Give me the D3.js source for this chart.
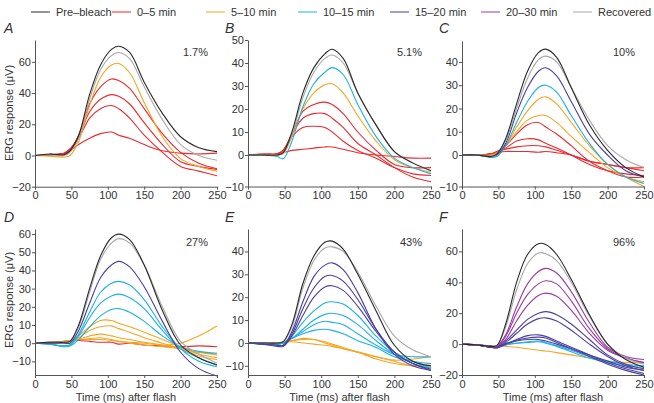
<!DOCTYPE html>
<html><head><meta charset="utf-8">
<script src="https://cdn.jsdelivr.net/npm/d3@7"></script>
<style>
body{margin:0;background:#fff}
svg{display:block}
text{font-family:"Liberation Sans",Arial,Helvetica,sans-serif;fill:#333}
</style>
</head><body>
<svg id="chart" width="654" height="403"></svg>
<script>
// ---------- data ----------
const time = [0,20,40,48,60,75,90,105,115,130,150,175,200,225,250];
const seriesNames = ["Pre\u2013bleach","0\u20135 min","5\u201310 min","10\u201315 min","15\u201320 min","20\u201330 min","Recovered"];
const xTicks = [0,50,100,150,200,250];
const panelLetters = ["A","B","C","D","E","F"];
const bleachLabels = ["1.7%","5.1%","10%","27%","43%","96%"];
const yTicksA = [-20,0,20,40,60];
const yTicksB = [-10,0,10,20,30,40,50];
const yTicksC = [-10,0,10,20,30,40];
const yTicksD = [-10,0,10,20,30,40,50,60];
const yTicksE = [-10,0,10,20,30,40];
const yTicksF = [-20,0,20,40,60];

// Panel A (1.7%)
const A_pre = [0,1,0.5,3,13,39,58,68,70,66,47,27,12,5,2.5];
const A_rec = [0,0.5,0,2,11,36,55,64,66,62,44,23,7,0,-3];
const A_510 = [[0,-0.5,-1,0,9,32,50,58,59,53,34,12,-2,-7,-10]];
const A_05 = [
  [0,0.5,1.5,4,13,33,44,49,48,43,30,14,2,-5,-8.5],
  [0,0.5,1.5,4,12,28,36,39,38,33,21,7,-4,-7,-9],
  [0,0.5,1.5,4,11,24,30,32,30,24,13,2,-7,-10,-13],
  [0,0.5,1,3,7,11,14,15,13,11,7,3,1.5,1,1.5]
];
// Panel B (5.1%)
const B_pre = [0,0,0,1,10,27,38,44,46,42,27,13,1.5,-2.5,-5];
const B_rec = [0,0,0,1,9,25,36,42,43.5,40,27,13,1.5,-2.5,-5];
const B_1015 = [[0,0,-0.5,-1.2,6,21,31,36,38,35,22,8,-1,-4,-6]];
const B_510 = [[0,0,0,0.5,8,20,27,30.5,31,27,17,6,-1.5,-4,-5.5]];
const B_05 = [
  [0,0,0.5,2,9,19,22,23,22,18,10,2,-3,-4,-4],
  [0,0,0.5,2,9,16,18,18,16,12,5,0,-4,-7,-8.5],
  [0,0,0.5,2,8,12,12.5,12,10,6,2,-1,-4,-6,-6.5],
  [0,0.5,0.5,1,2,2.5,3,3.5,3.5,2.5,1,0,-0.5,-1,-1]
];
// Panel C (10%)
const C_pre = [0,0,-0.5,0.5,7,22,36,44,45.5,42,29,13,2,-4,-7];
const C_rec = [0,0,-0.5,0.5,6,20,33,41,42.5,40,29,15,4,-1.5,-4];
const C_1520 = [[0,0,-0.5,0,5,18,29,36,37.5,34,23,9,0,-5,-7]];
const C_1015 = [[0,0,-0.8,-0.5,4,14,23,29,30,27,17,5,-3,-7,-9]];
const C_510 = [
  [0,0,-0.3,0.5,4,12,19,24,25,22,14,4,-3,-7,-10],
  [0,0,0,1,4,10,15,17,17,14,8,1,-4,-7,-8.5]
];
const C_05 = [
  [0,0,0,1,4,9,13,14,12,9,4,-2,-5,-7,-7],
  [0,0,0.5,1.5,3,6,7,6.5,5,3,0,-3,-5,-6,-6.5],
  [0,0,0.5,1.5,2.5,3.5,4,4,3.5,2,0,-2,-3,-4,-5],
  [0,0,0.5,1,1.5,1.5,1.5,1.2,1.5,1,0,-2,-3,-4,-4]
];
// Panel D (27%)
const D_pre = [0,0.5,0.5,1,10,30,48,58,60,57,43,18,-1,-8,-12];
const D_rec = [0,0.5,0.5,1,9,28,46,55,57.5,55,43,20,1,-6,-11];
const D_1520 = [[0,0,0,0,7,22,36,43,45,42,31,12,-5,-14,-18]];
const D_1015 = [
  [0,-0.5,-1.5,-1,5,17,28,33,34,32,24,9,-3,-10,-13],
  [0,-0.5,-1.5,-1,4,14,22,26,27,25,19,7,-3,-8,-12],
  [0,-0.5,-2,-1.5,2,9,15,18.5,19,17,12,4,-2,-4.5,-5.5]
];
const D_510 = [
  [0,0,0.5,1,4,9,12.5,12.5,11,9,6,2,-2,-6,-8],
  [0,0,0.5,1,3,7,9,9.5,8,6,3,0,-3,-7,-9],
  [0,0,0.5,1,2,4,5,4,3,2,0.5,-1,-3,-5,-6.5],
  [0,0.5,1,1.5,2,2.5,3,2,1,0.5,0,-1,0,4,9.5],
  [0,0.5,1,1.5,2,2,2,1.5,1,0,-1,-2,-3,-5,-6]
];
const D_05 = [[0,0.5,1,1.5,1.5,1,0.5,0.5,-0.5,0,-1,-1.5,-2,-1.5,-2]];
// Panel E (43%)
const E_pre = [0,0,0,0.5,8,26,38,44,44.5,41,30,14,-1,-8,-10];
const E_rec = [0,0,0,0.5,7,24,36,41.5,42,40,31,16,3,-3,-6];
const E_1520 = [
  [0,-0.5,-1,-1,5,18,29,34,35,32,22,6,-5,-10,-12],
  [0,-0.5,-1,-1,4,15,24,29,29.5,27,19,6,-4,-9,-11.5],
  [0,-0.5,-1.5,-1.5,3,12,20,24.5,25,23,16,5,-4,-9,-12]
];
const E_1015 = [
  [0,0,-0.5,0,3,9,14,17.5,18,17,12,3,-4,-8,-11],
  [0,0,-0.5,0,2,6,10,12.5,13,12,8,1,-5,-9,-11],
  [0,0,-0.5,0,2,5,8,9.5,9,8,4,-1,-5,-6,-6],
  [0,0,-0.5,0,2,4,5.5,6,5.5,4,1,-2,-6,-8,-9]
];
const E_510 = [
  [0,0,0,0.5,1,2,1.5,0.5,-0.5,-2,-4,-6,-8,-10,-9],
  [0,0,0,0.5,1,1.5,1.5,0,-1,-2.5,-4,-7,-9,-10,-10],
  [0,0,0,0.3,0.5,0,-0.5,-1,-1.5,-2.5,-4,-6,-7.5,-7,-6]
];
// Panel F (96%)
const F_pre = [0,-0.5,-1.5,-1,13,40,58,65,64.5,58,42,19,0,-10,-15];
const F_rec = [0,-0.5,-1.5,-1,11,35,52,59,58.5,54,40,18,0,-9,-13];
const F_2030 = [
  [0,-0.5,-1.5,-1.5,6,24,39,47,49,46,34,14,-2,-8,-10],
  [0,-0.5,-1.5,-1.5,5,20,32,39,41,39,28,10,-3,-9,-12],
  [0,-0.5,-1.5,-1.5,3,15,25,31.5,33,31,22,7,-4,-9,-12]
];
const F_1520 = [
  [0,-0.5,-2,-2,2,9,16,20,21,19,13,3,-7,-13,-16],
  [0,-0.5,-2,-2,1,7,13,16.5,17,15,9,0,-8,-14,-17],
  [0,-0.5,-2,-2.5,0,3,5.5,6,5,2,-2,-7,-12,-16,-19],
  [0,-0.5,-2,-2.5,0,2.5,4,4.5,4,1,-3,-8,-13,-17,-20],
  [0,-0.5,-2,-2,0,2,3,3,2,0,-3,-7,-11,-15,-17]
];
const F_1015 = [
  [0,-0.5,-1.5,-2,-0.5,0.5,1.5,2,1,-1,-4,-8,-11,-13,-14],
  [0,-0.5,-1.5,-2,-0.5,0.5,1,1.5,0.5,-1.5,-5,-9,-12,-14,-15]
];
const F_510 = [[0,-0.5,-1,-1,-1.5,-2,-3,-4,-4.5,-5.5,-7,-9,-11,-12,-12]];

// ---------- build ----------
const colors = ["#2a2a2a","#ea2a2f","#f5a623","#1cb0e6","#4a3f9f","#983b9e","#a8a8a8"];
function group(s, arr){ return arr.map(v => ({s, v})); }
const panelCurves = [
  [...group(1,A_05),...group(2,A_510),{s:6,v:A_rec},{s:0,v:A_pre}],
  [...group(1,B_05),...group(2,B_510),...group(3,B_1015),{s:6,v:B_rec},{s:0,v:B_pre}],
  [...group(1,C_05),...group(2,C_510),...group(3,C_1015),...group(4,C_1520),{s:6,v:C_rec},{s:0,v:C_pre}],
  [...group(1,D_05),...group(2,D_510),...group(3,D_1015),...group(4,D_1520),{s:6,v:D_rec},{s:0,v:D_pre}],
  [...group(2,E_510),...group(3,E_1015),...group(4,E_1520),{s:6,v:E_rec},{s:0,v:E_pre}],
  [...group(2,F_510),...group(3,F_1015),...group(4,F_1520),...group(5,F_2030),{s:6,v:F_rec},{s:0,v:F_pre}]
];
const yTickSets = [yTicksA,yTicksB,yTicksC,yTicksD,yTicksE,yTicksF];

// layout (pixels)
const xRanges = [[35,217],[248,431],[462,644],[35,217],[248,431],[462,644]];
const yScales = [
  d3.scaleLinear().domain([-20,74]).range([186.7,40]),
  d3.scaleLinear().domain([-10,0,50]).range([186.5,155,40]),
  d3.scaleLinear().domain([-10,0,49]).range([186.5,155,41]),
  d3.scaleLinear().domain([-17.5,62.8]).range([375,229]),
  d3.scaleLinear().domain([-14,49.8]).range([375,229]),
  d3.scaleLinear().domain([-20,74.5]).range([375,229])
];
const letterPos = [[4,33],[225,33],[439,33],[4,222],[225,222],[439,222]];
const pctRight = [208,422,635,208,422,635];
const pctY = [56,56,56,246,246,246];

const svg = d3.select("#chart");

// legend
const legX = [31,112,206,298,390,481,573];
seriesNames.forEach((n,i)=>{
  const g = svg.append("g").attr("transform",`translate(${legX[i]},12)`);
  g.append("line").attr("x1",0).attr("x2",19).attr("y1",0).attr("y2",0)
    .attr("stroke",colors[i]).attr("stroke-width",1);
  g.append("text").attr("x",25).attr("y",4).attr("font-size",11).text(n);
});

for(let p=0;p<6;p++){
  const x = d3.scaleLinear().domain([0,250]).range(xRanges[p]);
  const y = yScales[p];
  const g = svg.append("g");

  const line = d3.line().x((d,i)=>x(time[i])).y(d=>y(d)).curve(d3.curveCatmullRom.alpha(0.5));
  g.selectAll("path.curve").data(panelCurves[p]).join("path")
    .attr("class","curve")
    .attr("d",d=>line(d.v))
    .attr("fill","none")
    .attr("stroke",d=>colors[d.s])
    .attr("stroke-width",1.1);

  const y0 = y.range()[0];
  const xa = g.append("g").attr("transform",`translate(0,${y0})`)
    .call(d3.axisBottom(x).tickValues(xTicks).tickSize(3).tickSizeOuter(0).tickPadding(2));
  const ya = g.append("g").attr("transform",`translate(${xRanges[p][0]},0)`)
    .call(d3.axisLeft(y).tickValues(yTickSets[p]).tickSize(3).tickSizeOuter(0).tickPadding(1)
      .tickFormat(d=> d<0 ? "\u2212"+Math.abs(d) : d));
  [xa,ya].forEach(a=>{
    a.selectAll("path,line").attr("stroke","#555");
    a.selectAll("text").attr("font-size",11).attr("fill","#333").style("font-family","'Liberation Sans',Arial,sans-serif");
  });

  svg.append("text").attr("x",letterPos[p][0]).attr("y",letterPos[p][1])
    .attr("font-size",14).attr("font-style","italic").text(panelLetters[p]);
  svg.append("text").attr("x",pctRight[p]).attr("y",pctY[p]).attr("text-anchor","end")
    .attr("font-size",11).text(bleachLabels[p]);

  if(p===0||p===3){
    const cy = p===0 ? 113 : 300;
    svg.append("text").attr("transform",`translate(13,${cy}) rotate(-90)`)
      .attr("text-anchor","middle").attr("font-size",11).text("ERG response (\u03bcV)");
  }
  if(p>=3){
    svg.append("text").attr("x",(xRanges[p][0]+xRanges[p][1])/2).attr("y",401)
      .attr("text-anchor","middle").attr("font-size",11).text("Time (ms) after flash");
  }
}
</script>
</body></html>
